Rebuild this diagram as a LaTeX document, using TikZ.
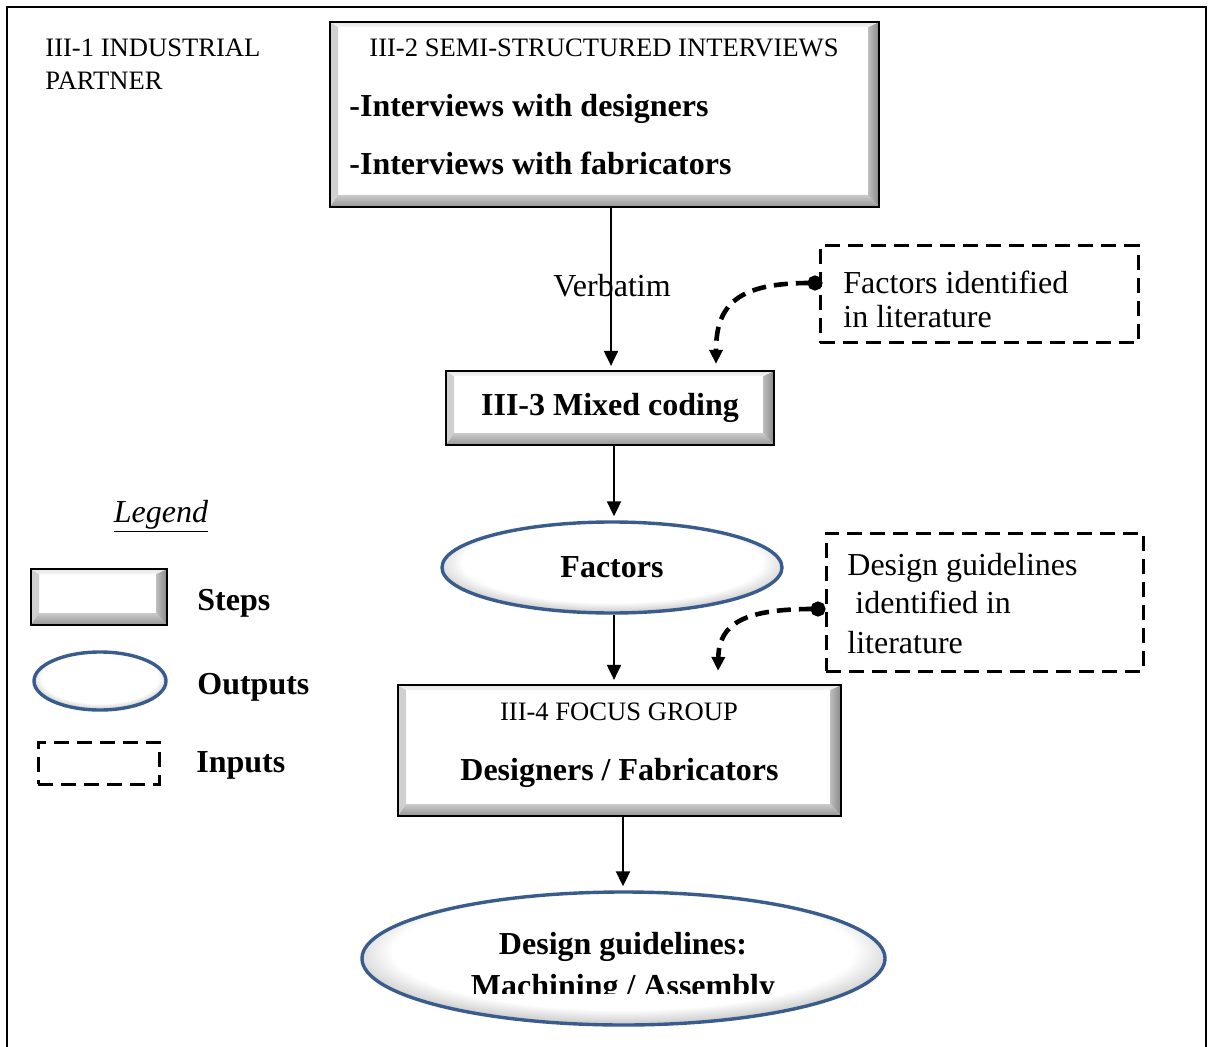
\documentclass[tikz,border=0pt]{standalone}
\usepackage{fontspec}
\setmainfont{Liberation Serif}
\usetikzlibrary{shapes.geometric,arrows.meta,calc}

\definecolor{ovalblue}{HTML}{3A5C8C}
\definecolor{bevtop}{HTML}{E6E6E6}
\definecolor{bevleft}{HTML}{D0D0D0}
\definecolor{bevright}{HTML}{888888}
\definecolor{bevbottom}{HTML}{969696}

% soft white fill of the output ovals, greying only near the lower rim
\pgfdeclareradialshading{ovalshade}{\pgfpoint{0bp}{5bp}}{%
  color(0bp)=(white); color(22bp)=(white); color(28bp)=(gray!50); color(50bp)=(gray!50)}

\newcommand\bigtxt{\fontsize{16}{19}\selectfont}
\newcommand\smalltxt{\fontsize{13.3}{16}\selectfont}

\tikzset{
  x=0.5pt, y=-0.5pt,
  lbl/.style={inner sep=0pt},
  % raised button-like box with bevelled edges
  stepbox/.style={
    draw=black, line width=1.1pt, fill=white, inner sep=0pt,
    path picture={
      \path (path picture bounding box.north west) coordinate (bnw)
            (path picture bounding box.north east) coordinate (bne)
            (path picture bounding box.south west) coordinate (bsw)
            (path picture bounding box.south east) coordinate (bse);
      \fill[bevleft] (bnw) -- ([shift={(4pt,-2.5pt)}]bnw) -- ([shift={(4pt,6pt)}]bsw) -- (bsw) -- cycle;
      \shade[left color=bevright!55!white, right color=bevright]
        (bne) -- ([shift={(-5.5pt,-2.5pt)}]bne) -- ([shift={(-5.5pt,6pt)}]bse) -- (bse) -- cycle;
      \shade[top color=bevtop, bottom color=bevtop!40!white]
        (bnw) -- (bne) -- ([shift={(-5.5pt,-2.5pt)}]bne) -- ([shift={(4pt,-2.5pt)}]bnw) -- cycle;
      \shade[top color=bevbottom!50!white, bottom color=bevbottom]
        (bsw) -- (bse) -- ([shift={(-5.5pt,6pt)}]bse) -- ([shift={(4pt,6pt)}]bsw) -- cycle;
    }
  },
  outbox/.style={ellipse, shade, shading=ovalshade, draw=ovalblue,
    line width=1.7pt, inner sep=0pt},
  inbox/.style={draw=black, line width=1.5pt, dash pattern=on 7.5pt off 4pt,
    inner sep=0pt},
  flow/.style={line width=1pt, shorten >=2pt, -{Triangle[length=7.5pt,width=7pt]}},
  litlink/.style={line width=2.3pt, dash pattern=on 7pt off 4pt,
    {Circle[length=7.5pt]}-{Triangle[length=7pt,width=6.5pt]}},
}

\begin{document}
\begin{tikzpicture}
\useasboundingbox (0,0) rectangle (1208,1047);
\fill[white] (0,0) rectangle (1208,1047);

% outer frame, open at the bottom
\draw[line width=1.4pt] (7,1070) -- (7,7) -- (1206,7) -- (1206,1070);

% III-1
\node[lbl, anchor=base west, font=\smalltxt] (ipA) at (45,57) {III-1 INDUSTRIAL};
\node[lbl, anchor=base west, font=\smalltxt] (ipB) at (45,90) {PARTNER};

% III-2 interviews
\node[stepbox, minimum width=274.5pt, minimum height=92.5pt] (ssi) at (604.5,114.5) {};
\node[lbl, anchor=base, font=\smalltxt] (ssiT) at (604,57) {III-2 SEMI-STRUCTURED INTERVIEWS};
\node[lbl, anchor=base west, font=\bigtxt\bfseries] (ssiA) at (349,117) {-Interviews with designers};
\node[lbl, anchor=base west, font=\bigtxt\bfseries] (ssiB) at (349,175) {-Interviews with fabricators};

% III-3 coding
\node[stepbox, minimum width=164pt, minimum height=37pt, font=\bigtxt\bfseries] (mix) at (610,408) {III-3 Mixed coding};

% factors
\node[outbox, minimum width=170pt, minimum height=45.5pt, font=\bigtxt\bfseries] (fac) at (612,567.5) {Factors};

% III-4 focus group
\node[stepbox, minimum width=221.5pt, minimum height=65.5pt] (fg) at (619.5,750.5) {};
\node[lbl, anchor=base, font=\smalltxt] (fgT) at (619,720) {III-4 FOCUS GROUP};
\node[lbl, anchor=base, font=\bigtxt\bfseries] (fgA) at (619.5,780) {Designers / Fabricators};

% final guidelines
\node[outbox, minimum width=261.5pt, minimum height=66.5pt] (dg) at (623.5,958.5) {};
\node[lbl, anchor=base, font=\bigtxt\bfseries] (dgA) at (623,954) {Design guidelines:};
\begin{scope}
  \clip (350,900) rectangle (900,993);
  \node[lbl, anchor=base, font=\bigtxt\bfseries] (dgB) at (623,996) {Machining / Assembly};
\end{scope}

% literature inputs
\node[inbox, minimum width=159pt, minimum height=48.5pt] (lit1) at (979,294.5) {};
\node[lbl, anchor=base west, font=\bigtxt] (lit1A) at (843,294) {Factors identified};
\node[lbl, anchor=base west, font=\bigtxt] (lit1B) at (843,328) {in literature};

\node[inbox, minimum width=158.5pt, minimum height=69pt] (lit2) at (984.5,602) {};
\node[lbl, anchor=base west, font=\bigtxt] (lit2A) at (847,575) {Design guidelines};
\node[lbl, anchor=base west, font=\bigtxt] (lit2B) at (855,613) {identified in};
\node[lbl, anchor=base west, font=\bigtxt] (lit2C) at (847,653) {literature};

% main flow
\node[lbl, anchor=base, font=\bigtxt] (verb) at (612,297) {Verbatim};
\draw[flow] (ssi.south -| 611,0) -- (mix.north -| 611,0);
\draw[flow] (mix.south -| 614,0) -- (fac.north -| 614,0);
\draw[flow] (fac.south -| 614,0) -- (fg.north -| 614,0);
\draw[flow] (fg.south -| 623,0) -- (dg.north -| 623,0);

% literature feeds
\coordinate (f1s) at ($(lit1.west)+(4,-11.5)$);
\coordinate (f1e) at ($(mix.north)+(106,-6)$);
\draw[litlink] (f1s) .. controls ($(f1s)+(-84,0)$) and ($(f1e)+(0,-60)$) .. (f1e);
\coordinate (f2s) at ($(lit2.west)+(1,7)$);
\coordinate (f2e) at ($(fg.north)+(98.5,-13)$);
\draw[litlink] (f2s) .. controls ($(f2s)+(-82,0)$) and ($(f2e)+(1,-47)$) .. (f2e);

% legend
\node[lbl, anchor=base, font=\bigtxt\itshape] (legT) at (161,522) {\underline{Legend}};
\node[stepbox, minimum width=68pt, minimum height=28pt] (keyStep) at (99,597) {};
\node[lbl, anchor=base west, font=\bigtxt\bfseries] (keyStepT) at (197,610) {Steps};
\node[outbox, minimum width=66pt, minimum height=29pt] (keyOut) at (100,681) {};
\node[lbl, anchor=base west, font=\bigtxt\bfseries] (keyOutT) at (197,694) {Outputs};
\node[inbox, minimum width=60.5pt, minimum height=21pt] (keyIn) at (98.5,763) {};
\node[lbl, anchor=base west, font=\bigtxt\bfseries] (keyInT) at (196,772) {Inputs};
\end{tikzpicture}
\end{document}
